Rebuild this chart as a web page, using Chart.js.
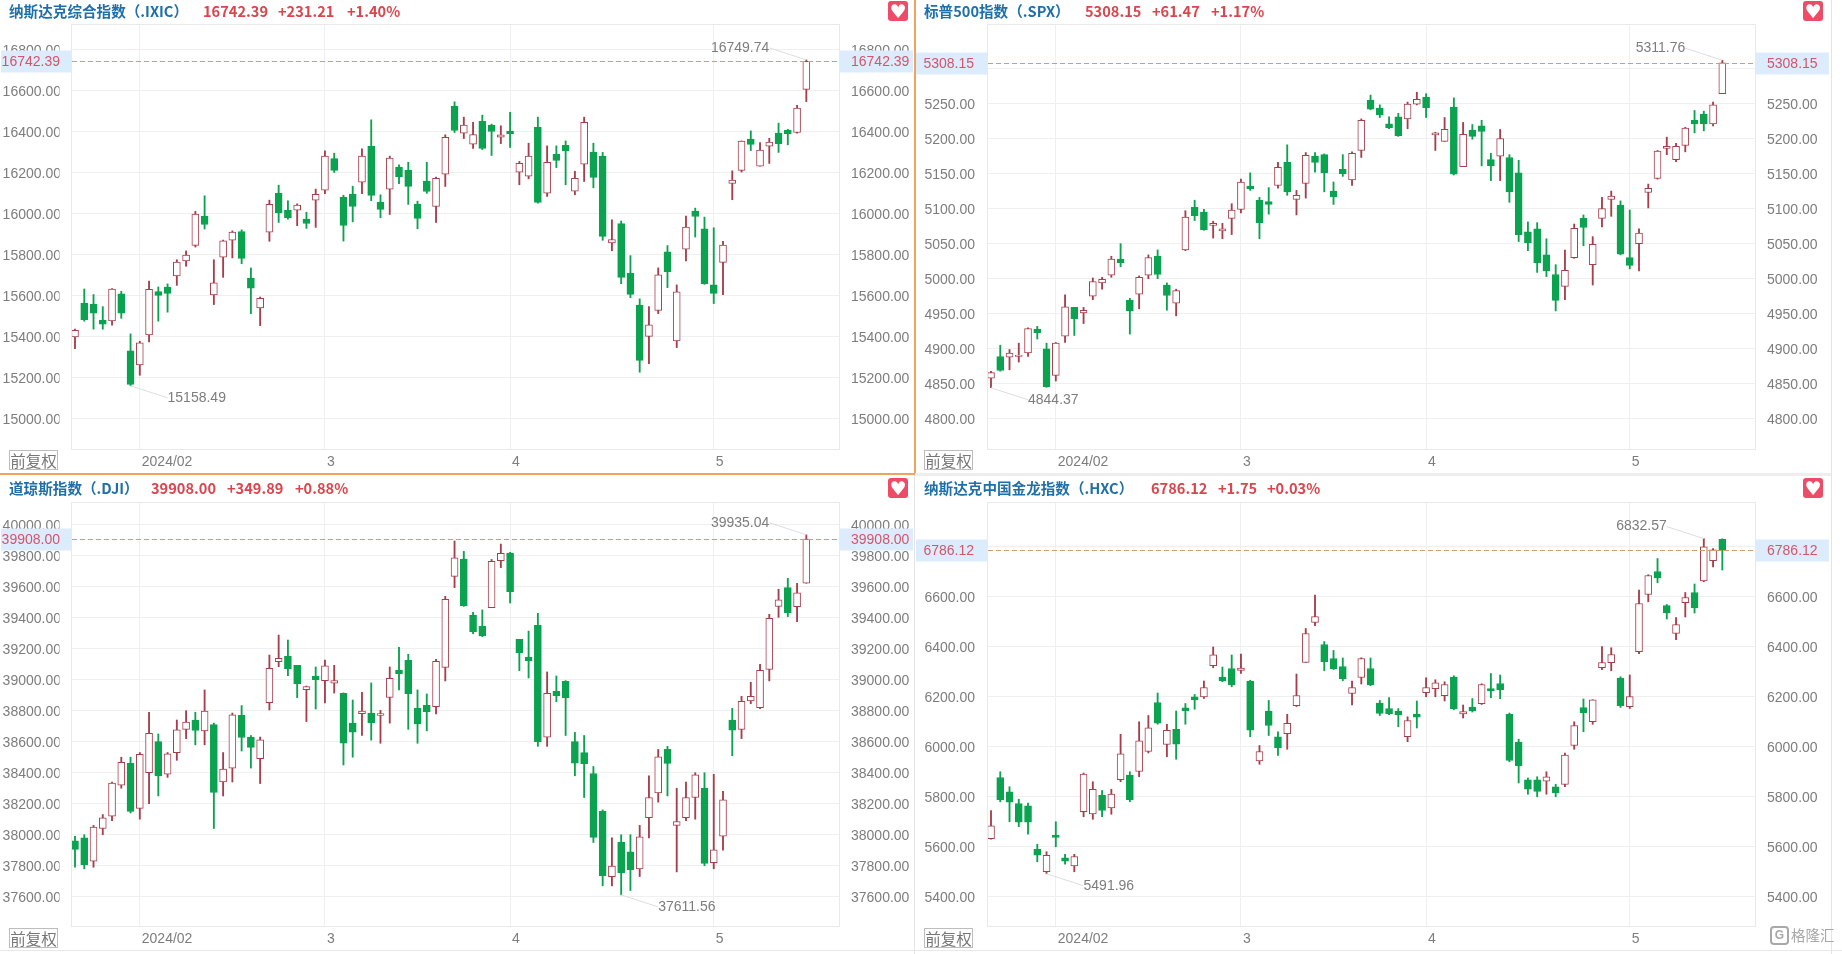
<!DOCTYPE html>
<html>
<head>
<meta charset="utf-8">
<title>指数K线</title>
<script src="https://cdn.jsdelivr.net/npm/chart.js@4/dist/chart.umd.min.js"></script>
<style>
html, body { margin: 0; padding: 0; background: #fff; width: 1842px; height: 954px; overflow: hidden; }
canvas { position: absolute; }
.title { position: absolute; font: bold 14.6px "Noto Sans CJK SC", sans-serif; white-space: nowrap; line-height: 20px; }
.name { color: #1f6fa8; }
.num { color: #d8474d; }
.heart { position: absolute; width: 20px; height: 20px; border-radius: 3px; background: #ee4b66; color: #fff; font: 19px/20px "DejaVu Sans", sans-serif; text-align: center; }
.adj { position: absolute; width: 47px; height: 18px; border: 1px solid #bdbdbd; color: #777; font: 15.5px/18px "Noto Sans CJK SC", sans-serif; text-align: center; }
.rule { position: absolute; }
.mark { position: absolute; left: 1791px; top: 925px; color: #a8a8a8; font: 14.5px/20px "Noto Sans CJK SC", sans-serif; }
.logo { position: absolute; left: 1770px; top: 926px; width: 15px; height: 15px; border: 2px solid #a8a8a8; border-radius: 4px; color: #a8a8a8; font: bold 12px/15px "Liberation Sans", sans-serif; text-align: center; }
</style>
</head>
<body>
<script>
const dates = ['01/23','01/24','01/25','01/26','01/29','01/30','01/31','02/01','02/02','02/05','02/06','02/07','02/08','02/09','02/12','02/13','02/14','02/15','02/16','02/20','02/21','02/22','02/23','02/26','02/27','02/28','02/29','03/01','03/04','03/05','03/06','03/07','03/08','03/11','03/12','03/13','03/14','03/15','03/18','03/19','03/20','03/21','03/22','03/25','03/26','03/27','03/28','04/01','04/02','04/03','04/04','04/05','04/08','04/09','04/10','04/11','04/12','04/15','04/16','04/17','04/18','04/19','04/22','04/23','04/24','04/25','04/26','04/29','04/30','05/01','05/02','05/03','05/06','05/07','05/08','05/09','05/10','05/13','05/14','05/15'];
const monthTicks = ['02/01','03/01','04/01','05/01'];
const monthLabels = ['2024/02','3','4','5'];

const ixicOpen = [15397,15563,15558,15480,15475,15607,15329,15261,15407,15618,15641,15695,15768,15844,15987,15602,15787,15869,15912,15685,15539,15909,16099,16015,16016,15972,16065,16114,16268,16080,16094,16153,16328,16055,16119,16226,16211,16046,16158,16034,16192,16524,16392,16338,16450,16431,16372,16402,16202,16182,16421,16099,16289,16333,16109,16241,16299,16280,15856,15950,15709,15553,15400,15527,15812,15378,15826,16011,15925,15652,15761,16146,16210,16363,16231,16328,16392,16406,16395,16606];
const ixicHigh = [15436,15631,15604,15545,15633,15620,15412,15376,15670,15641,15656,15774,15817,16010,16086,15774,15870,15915,15920,15734,15592,16065,16138,16062,16047,16006,16119,16306,16294,16089,16133,16315,16457,16091,16280,16237,16250,16060,16250,16177,16384,16545,16470,16445,16480,16436,16428,16494,16254,16343,16470,16330,16330,16354,16206,16470,16343,16298,15969,15963,15794,15583,15545,15734,15843,15651,15987,16026,15982,15930,15864,16208,16354,16403,16346,16367,16441,16411,16528,16749.74];
const ixicLow = [15340,15474,15435,15435,15454,15488,15158.49,15210,15373,15474,15518,15649,15742,15836,15924,15555,15688,15783,15755,15511,15452,15864,15956,15972,15940,15927,15932,16096,16200,15865,15959,16096,16062,15979,15995,16145,16044,15925,16098,15956,16132,16395,16366,16317,16312,16283,16341,16322,16140,16169,16050,16083,16224,16140,16091,16156,16125,15869,15818,15657,15589,15225,15267,15511,15638,15345,15768,15885,15654,15560,15604,16067,16202,16307,16231,16244,16298,16335,16392,16546];
const ixicClose = [15429,15482,15513,15459,15631,15513,15165,15368,15630,15600,15610,15763,15797,15997,15946,15661,15866,15909,15781,15635,15586,16044,16002,15979,16041,15951,16093,16280,16210,15941,16034,16280,16088,16020,16270,16180,16132,15976,16107,16172,16372,16405,16431,16385,16317,16400,16384,16390,16245,16280,16054,16250,16259,16307,16172,16445,16176,15888,15873,15688,15605,15283,15456,15700,15716,15617,15933,15985,15657,15610,15846,16163,16353,16337,16309,16348,16341,16390,16514,16742.39];
const ixicTicks = [15000,15200,15400,15600,15800,16000,16200,16400,16600,16800];

const spxOpen = [4858,4889,4888,4889,4894,4928,4900,4862,4918,4959,4951,4975,4994,5005,5028,4969,4978,5005,5032,4991,4965,5041,5102,5095,5076,5068,5086,5099,5132,5112,5110,5133,5166,5113,5136,5175,5177,5125,5156,5141,5183,5255,5243,5221,5231,5228,5249,5259,5205,5196,5245,5160,5212,5218,5170,5175,5173,5151,5067,5071,5034,5006,4989,5030,5086,5020,5086,5113,5105,5030,5050,5123,5143,5186,5170,5190,5226,5235,5221,5264];
const spxHigh = [4868,4905,4899,4908,4930,4932,4908,4909,4977,4959,4959,5001,5002,5032,5050,4972,5004,5034,5041,4994,4985,5097,5112,5099,5082,5079,5107,5142,5151,5116,5130,5166,5191,5126,5180,5180,5178,5138,5177,5181,5228,5262,5248,5231,5236,5252,5266,5264,5209,5230,5258,5223,5220,5226,5179,5213,5177,5169,5081,5080,5057,5020,5041,5078,5091,5060,5116,5125,5111,5098,5071,5135,5183,5202,5193,5216,5240,5239,5252,5311.76];
const spxLow = [4844.37,4868,4870,4881,4889,4914,4845,4854,4909,4919,4936,4970,4985,5002,5017,4921,4957,5000,5000,4955,4947,5040,5083,5069,5058,5057,5063,5094,5126,5057,5092,5129,5119,5091,5115,5152,5124,5106,5146,5133,5173,5241,5230,5214,5203,5214,5248,5230,5183,5196,5148,5160,5199,5161,5140,5140,5109,5053,5040,5009,5003,4954,4970,5029,5047,4991,5074,5089,5034,5014,5011,5101,5142,5177,5167,5181,5208,5211,5218,5264];
const spxClose = [4866,4869,4894,4891,4929,4923,4846,4908,4960,4943,4955,4996,4999,5028,5023,4954,5002,5030,5006,4976,4983,5088,5090,5070,5079,5071,5098,5138,5128,5080,5106,5159,5124,5119,5176,5166,5151,5117,5150,5179,5226,5242,5234,5215,5204,5249,5256,5244,5208,5213,5149,5206,5203,5210,5161,5200,5124,5063,5051,5023,5011,4969,5012,5072,5073,5049,5100,5118,5035,5019,5065,5129,5182,5189,5189,5215,5221,5221,5248,5308.15];
const spxTicks = [4800,4850,4900,4950,5000,5050,5100,5150,5200,5250,5300];

const djiOpen = [37960,37980,37830,38040,38120,38320,38460,38170,38400,38600,38390,38530,38680,38740,38670,38710,38340,38430,38770,38630,38490,38852,39116,39151,39093,38936,39022,38994,38977,38912,38720,38781,38785,38769,38886,39060,39125,38815,38835,38826,39080,39667,39779,39417,39344,39465,39768,39817,39260,39146,39351,38630,38925,38990,38600,38530,38395,38150,37730,37950,37890,37780,38110,38270,38550,38060,38110,38240,38300,37820,37990,38740,38680,38863,38820,39067,39473,39594,39471,39622];
const djiHigh = [37990,38000,38060,38130,38340,38500,38500,38530,38790,38650,38530,38740,38800,38790,38934,38720,38530,38785,38833,38640,38630,39159,39288,39256,39093,38959,39082,39127,39093,38915,38869,38919,38979,38802,39082,39209,39164,38934,38908,39131,39538,39895,39828,39435,39450,39776,39875,39822,39260,39314,39428,39050,39024,38994,38660,38640,38440,38160,37980,38000,38000,38060,38380,38550,38570,38300,38340,38400,38400,38390,38280,38815,38893,38983,39099,39422,39583,39654,39622,39935.04];
const djiLow = [37790,37780,37790,38000,38090,38300,38140,38100,38200,38250,38370,38480,38620,38580,38580,38040,38250,38340,38540,38430,38330,38805,39084,39026,38884,38730,38811,38850,38914,38450,38500,38640,38610,38590,38720,38934,38680,38590,38670,38780,38992,39594,39473,39297,39278,39465,39723,39495,39058,39011,38570,38570,38858,38640,38380,38240,37950,37670,37670,37611.56,37640,37730,37980,38210,38250,37760,38090,38100,37800,37780,37900,38510,38620,38845,38813,38992,39402,39407,39374,39622];
const djiClose = [37905,37806,38049,38109,38333,38467,38150,38519,38654,38380,38521,38677,38726,38672,38797,38272,38424,38773,38627,38563,38612,39073,39138,39071,38974,38955,39000,39090,38994,38590,38661,38798,38722,38781,39009,39039,38910,38715,38794,39118,39518,39787,39478,39310,39282,39764,39815,39568,39174,39123,38600,38912,38897,38884,38461,38459,37983,37735,37798,37753,37775,37986,38240,38503,38460,38085,38240,38386,37815,37903,38225,38675,38860,38893,39060,39396,39516,39432,39561,39908];
const djiTicks = [37600,37800,38000,38200,38400,38600,38800,39000,39200,39400,39600,39800,40000];

const hxcOpen = [5632,5877,5820,5773,5764,5590,5500,5646,5556,5523,5740,5731,5806,5755,5868,5887,5901,5981,6177,6009,6070,6156,6200,6199,6324,6279,6313,6305,6263,5943,6143,6040,6052,6164,6337,6497,6409,6353,6321,6213,6277,6313,6175,6153,6143,6040,6131,6216,6232,6204,6279,6131,6159,6172,6233,6253,6130,6019,5868,5868,5862,5840,5849,6005,6157,6100,6316,6336,6275,6160,6380,6609,6701,6565,6453,6576,6617,6663,6744,6830];
const hxcHigh = [5745,5900,5840,5790,5775,5610,5580,5700,5570,5570,5895,5860,5825,5830,6050,5900,6100,6125,6215,6090,6143,6173,6209,6263,6399,6319,6367,6371,6266,6005,6185,6060,6130,6291,6473,6607,6421,6385,6355,6263,6356,6355,6185,6197,6153,6120,6183,6276,6268,6260,6284,6167,6193,6252,6293,6287,6135,6030,5875,5880,5900,5850,5975,6100,6191,6188,6401,6396,6280,6287,6627,6688,6753,6569,6517,6617,6651,6832.57,6793,6832];
const hxcLow = [5630,5780,5700,5680,5650,5540,5491.96,5600,5530,5500,5720,5710,5720,5730,5860,5780,5880,5975,6090,5960,5950,6090,6150,6193,6316,6260,6240,6293,6040,5930,6045,5965,5990,6161,6337,6484,6304,6309,6264,6167,6251,6244,6125,6128,6080,6020,6075,6200,6200,6183,6148,6115,6139,6169,6196,6192,5940,5855,5810,5800,5810,5800,5840,5990,6060,6090,6308,6304,6157,6153,6372,6580,6656,6511,6428,6519,6535,6660,6719,6707];
const hxcClose = [5684,5788,5778,5698,5698,5566,5566,5637,5542,5561,5891,5830,5745,5811,5972,5788,6024,6076,6094,6066,6010,6144,6187,6237,6368,6263,6247,6315,6066,5981,6085,5996,6094,6205,6453,6521,6340,6311,6272,6237,6353,6247,6133,6132,6127,6105,6118,6237,6256,6249,6151,6141,6143,6249,6223,6228,5945,5924,5830,5821,5880,5816,5967,6085,6136,6188,6337,6369,6164,6201,6573,6685,6675,6535,6489,6597,6555,6800,6788,6786.12];
const hxcTicks = [5400,5600,5800,6000,6200,6400,6600,6800];

const panels = [
    { left: 0, top: 0, width: 914, height: 473, plotLeft: 72, plotRight: 839, plotTop: 25, yMin: 14850, yMax: 16920,
      open: ixicOpen, high: ixicHigh, low: ixicLow, close: ixicClose, ticks: ixicTicks, last: 16742.39,
      highMark: [79, 16749.74], lowMark: [6, 15158.49], labelPad: 11, clipAt: 59.5,
      titleTop: 1, titleX: 9, name: '纳斯达克综合指数（.IXIC）', price: '16742.39', change: '+231.21', pct: '+1.40%', xs: [203, 278, 347] },
    { left: 915, top: 0, width: 916, height: 473, plotLeft: 73, plotRight: 840, plotTop: 25, yMin: 4757, yMax: 5362,
      open: spxOpen, high: spxHigh, low: spxLow, close: spxClose, ticks: spxTicks, last: 5308.15,
      highMark: [79, 5311.76], lowMark: [0, 4844.37], labelPad: 13, clipAt: 60,
      titleTop: 1, titleX: 9, name: '标普500指数（.SPX）', price: '5308.15', change: '+61.47', pct: '+1.17%', xs: [170, 237, 296] },
    { left: 0, top: 475, width: 914, height: 475, plotLeft: 72, plotRight: 839, plotTop: 28, yMin: 37411, yMax: 40140,
      open: djiOpen, high: djiHigh, low: djiLow, close: djiClose, ticks: djiTicks, last: 39908.00,
      highMark: [79, 39935.04], lowMark: [59, 37611.56], labelPad: 11, clipAt: 59.5,
      titleTop: 3, titleX: 9, name: '道琼斯指数（.DJI）', price: '39908.00', change: '+349.89', pct: '+0.88%', xs: [151, 227, 295] },
    { left: 915, top: 475, width: 916, height: 475, plotLeft: 73, plotRight: 840, plotTop: 28, yMin: 5283, yMax: 6975,
      open: hxcOpen, high: hxcHigh, low: hxcLow, close: hxcClose, ticks: hxcTicks, last: 6786.12,
      highMark: [77, 6832.57], lowMark: [6, 5491.96], labelPad: 13, clipAt: 60,
      titleTop: 3, titleX: 9, name: '纳斯达克中国金龙指数（.HXC）', price: '6786.12', change: '+1.75', pct: '+0.03%', xs: [236, 303, 352] }
];

const UP = '#a63f4c';
const DOWN = '#0ba250';
const GRID = '#eeeff1';
const AXIS_TEXT = '#7d7d7d';
const AXIS_FONT = { family: '"Liberation Sans", sans-serif', size: 14 };

function addRule(left, top, width, height, color) {
    const d = document.createElement('div');
    d.className = 'rule';
    d.style.cssText = `left:${left}px;top:${top}px;width:${width}px;height:${height}px;background:${color}`;
    document.body.appendChild(d);
}

function addChrome(p) {
    const t = document.createElement('div');
    t.className = 'title';
    t.style.left = (p.left + p.titleX) + 'px';
    t.style.top = (p.top + p.titleTop) + 'px';
    t.innerHTML = `<span class="name">${p.name}</span>`;
    document.body.appendChild(t);
    [p.price, p.change, p.pct].forEach((txt, i) => {
        const s = document.createElement('div');
        s.className = 'title num';
        s.style.left = (p.left + p.xs[i]) + 'px';
        s.style.top = (p.top + p.titleTop) + 'px';
        s.textContent = txt;
        document.body.appendChild(s);
    });
    const h = document.createElement('div');
    h.className = 'heart';
    h.style.left = (p.left + 888) + 'px';
    h.style.top = (p.top + p.titleTop) + 'px';
    h.textContent = '♥';
    document.body.appendChild(h);
    const a = document.createElement('div');
    a.className = 'adj';
    a.style.left = (p.left + 9) + 'px';
    a.style.top = (p.top + p.plotTop + 425) + 'px';
    a.textContent = '前复权';
    document.body.appendChild(a);
}

const panelOverlay = {
    id: 'panelOverlay',
    beforeDatasetsDraw(chart, args, opts) {
        const p = opts.panel;
        const ctx = chart.ctx;
        const area = chart.chartArea;
        ctx.save();
        // the left labels are cut off before they reach the plot
        ctx.fillStyle = '#fff';
        ctx.fillRect(p.clipAt, 0, area.left - p.clipAt - 1, chart.height);
        ctx.strokeStyle = '#e8e9eb';
        ctx.lineWidth = 1;
        ctx.strokeRect(area.left - 0.5, area.top - 0.5, area.width + 1, area.height + 1);
        ctx.restore();
    },
    afterDraw(chart, args, opts) {
        const p = opts.panel;
        const ctx = chart.ctx;
        const area = chart.chartArea;
        const x = chart.scales.x;
        const y = chart.scales.y;
        const priceY = Math.round(y.getPixelForValue(p.last)) + 0.5;
        ctx.save();

        // price boxes over the axes
        ctx.fillStyle = '#dcecfc';
        ctx.fillRect(1, priceY - 11, area.left - 1, 22);
        ctx.fillRect(area.right, priceY - 11, 74, 22);
        ctx.font = '14px "Liberation Sans", sans-serif';
        ctx.fillStyle = '#d2566b';
        ctx.textBaseline = 'middle';
        ctx.textAlign = 'right';
        ctx.fillText(p.last.toFixed(2), area.left - p.labelPad - 1, priceY + 1);
        ctx.textAlign = 'left';
        ctx.fillText(p.last.toFixed(2), area.right + 12, priceY + 1);

        // last price line
        ctx.strokeStyle = '#d39c68';
        ctx.lineWidth = 1;
        ctx.setLineDash([5, 3]);
        ctx.beginPath();
        ctx.moveTo(area.left, priceY);
        ctx.lineTo(area.right, priceY);
        ctx.stroke();
        ctx.setLineDash([]);

        // high and low call-outs
        ctx.fillStyle = AXIS_TEXT;
        const callout = (mark, dx, dy, align) => {
            const px = x.getPixelForValue(mark[0]);
            const py = y.getPixelForValue(mark[1]);
            ctx.strokeStyle = '#dddddd';
            ctx.beginPath();
            ctx.moveTo(px, py);
            ctx.lineTo(px + dx, py + dy);
            ctx.stroke();
            ctx.textAlign = align;
            ctx.fillText(mark[1].toFixed(2), px + dx, py + dy);
        };
        callout(p.highMark, -37, -12, 'right');
        callout(p.lowMark, 37, 12, 'left');
        ctx.restore();
    }
};

function drawPanel(p) {
    const canvas = document.createElement('canvas');
    canvas.width = p.width;
    canvas.height = p.height;
    canvas.style.left = p.left + 'px';
    canvas.style.top = p.top + 'px';
    document.body.appendChild(canvas);

    const rising = p.close.map((c, i) => c >= p.open[i]);
    const monthIdx = monthTicks.map(m => dates.indexOf(m));
    const setTicks = scale => { scale.ticks = p.ticks.map(v => ({ value: v })); };
    const price = v => Number(v).toFixed(2);

    new Chart(canvas.getContext('2d'), {
        type: 'bar',
        data: {
            datasets: [
                {
                    label: 'body',
                    order: 1,
                    data: dates.map((d, i) => ({ x: i, y: [p.open[i], p.close[i]] })),
                    backgroundColor: rising.map(r => r ? '#ffffff' : DOWN),
                    borderColor: rising.map(r => r ? UP : DOWN),
                    borderWidth: 1,
                    borderSkipped: false,
                    barThickness: 7,
                    grouped: false
                },
                {
                    label: 'wick',
                    order: 2,
                    data: dates.map((d, i) => ({ x: i, y: [p.low[i], p.high[i]] })),
                    backgroundColor: rising.map(r => r ? UP : DOWN),
                    borderWidth: 0,
                    barThickness: 1.2,
                    grouped: false
                }
            ]
        },
        plugins: [panelOverlay],
        options: {
            responsive: false,
            animation: false,
            layout: { padding: { top: p.plotTop, left: 0, right: 0, bottom: 0 } },
            plugins: {
                legend: { display: false },
                tooltip: { enabled: false },
                panelOverlay: { panel: p }
            },
            scales: {
                x: {
                    type: 'linear',
                    offset: false,
                    min: -0.324,
                    max: 82.53,
                    afterBuildTicks: scale => { scale.ticks = monthIdx.map(v => ({ value: v })); },
                    afterFit: scale => { scale.height = 24; },
                    grid: { color: GRID, drawTicks: false, offset: false },
                    border: { display: false },
                    ticks: {
                        autoSkip: false,
                        maxRotation: 0,
                        minRotation: 0,
                        align: 'start',
                        labelOffset: 2,
                        padding: 5,
                        color: AXIS_TEXT,
                        font: AXIS_FONT,
                        callback: v => monthLabels[monthIdx.indexOf(v)]
                    }
                },
                y: {
                    position: 'left',
                    min: p.yMin,
                    max: p.yMax,
                    afterBuildTicks: setTicks,
                    afterFit: scale => { scale.width = p.plotLeft; },
                    grid: { color: GRID, drawTicks: false },
                    border: { display: false },
                    ticks: { autoSkip: false, padding: p.labelPad, labelOffset: 1.5, color: AXIS_TEXT, font: AXIS_FONT, callback: price }
                },
                y2: {
                    position: 'right',
                    min: p.yMin,
                    max: p.yMax,
                    afterBuildTicks: setTicks,
                    afterFit: scale => { scale.width = p.width - p.plotRight; },
                    grid: { display: false, drawTicks: false },
                    border: { display: false },
                    ticks: { autoSkip: false, padding: 12, labelOffset: 1.5, color: AXIS_TEXT, font: AXIS_FONT, callback: price }
                }
            }
        }
    });
}

panels.forEach(p => {
    drawPanel(p);
    addChrome(p);
});

// panel frames
addRule(914, 0, 1.5, 474, '#f0a35e');
addRule(0, 473, 915, 1.5, '#f0a35e');
addRule(915, 473, 916, 3, '#eeeeee');
addRule(914, 475, 1, 479, '#e4e4e4');
addRule(1831, 0, 1, 954, '#e4e4e4');
addRule(0, 950, 1842, 1, '#e8e8e8');

const logo = document.createElement('div');
logo.className = 'logo';
logo.textContent = 'G';
document.body.appendChild(logo);
const mark = document.createElement('div');
mark.className = 'mark';
mark.textContent = '格隆汇';
document.body.appendChild(mark);
</script>
</body>
</html>
